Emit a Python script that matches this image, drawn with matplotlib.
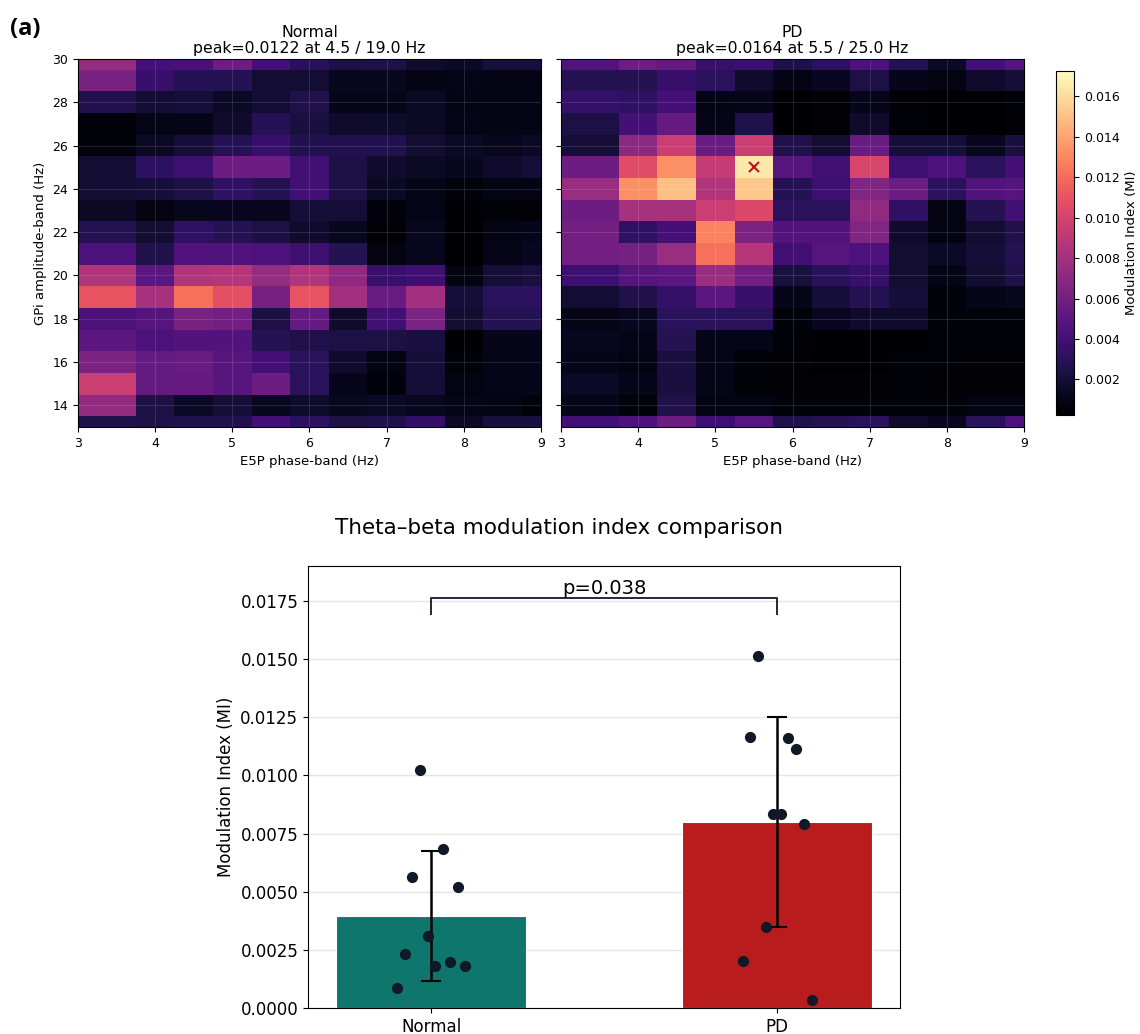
import numpy as np
import matplotlib
matplotlib.use("Agg")
import matplotlib.pyplot as plt
from matplotlib.colors import Normalize
from matplotlib.ticker import MultipleLocator

# phase-band centres (Hz) and amplitude-band centres (Hz)
phase_freqs = np.arange(3.5, 9.01, 0.5)
amp_freqs = np.arange(13, 31)

# comodulograms, rows listed from 30 Hz (top) down to 13 Hz
mi_normal_rows = [
    [0.0074, 0.0040, 0.0042, 0.0057, 0.0040, 0.0029, 0.0023, 0.0024, 0.0017, 0.0015, 0.0021, 0.0021],
    [0.0062, 0.0035, 0.0028, 0.0028, 0.0019, 0.0019, 0.0012, 0.0012, 0.0009, 0.0010, 0.0009, 0.0009],
    [0.0026, 0.0019, 0.0020, 0.0014, 0.0019, 0.0025, 0.0011, 0.0011, 0.0014, 0.0009, 0.0009, 0.0009],
    [0.0006, 0.0010, 0.0010, 0.0017, 0.0028, 0.0022, 0.0017, 0.0016, 0.0014, 0.0010, 0.0009, 0.0009],
    [0.0006, 0.0014, 0.0020, 0.0028, 0.0036, 0.0026, 0.0026, 0.0026, 0.0018, 0.0014, 0.0012, 0.0015],
    [0.0019, 0.0031, 0.0037, 0.0057, 0.0057, 0.0039, 0.0023, 0.0017, 0.0014, 0.0012, 0.0017, 0.0020],
    [0.0019, 0.0021, 0.0024, 0.0032, 0.0027, 0.0039, 0.0024, 0.0014, 0.0010, 0.0006, 0.0009, 0.0009],
    [0.0014, 0.0008, 0.0012, 0.0013, 0.0012, 0.0020, 0.0020, 0.0007, 0.0010, 0.0003, 0.0005, 0.0004],
    [0.0027, 0.0018, 0.0032, 0.0027, 0.0023, 0.0017, 0.0013, 0.0004, 0.0012, 0.0003, 0.0009, 0.0011],
    [0.0043, 0.0025, 0.0045, 0.0045, 0.0043, 0.0037, 0.0027, 0.0008, 0.0013, 0.0003, 0.0010, 0.0013],
    [0.0085, 0.0050, 0.0085, 0.0087, 0.0074, 0.0085, 0.0072, 0.0035, 0.0038, 0.0008, 0.0020, 0.0022],
    [0.0110, 0.0081, 0.0122, 0.0108, 0.0061, 0.0110, 0.0080, 0.0055, 0.0080, 0.0020, 0.0030, 0.0031],
    [0.0043, 0.0047, 0.0062, 0.0059, 0.0023, 0.0053, 0.0017, 0.0039, 0.0063, 0.0018, 0.0027, 0.0027],
    [0.0050, 0.0043, 0.0046, 0.0046, 0.0027, 0.0025, 0.0023, 0.0023, 0.0022, 0.0002, 0.0011, 0.0011],
    [0.0063, 0.0053, 0.0055, 0.0048, 0.0040, 0.0030, 0.0017, 0.0008, 0.0020, 0.0006, 0.0010, 0.0011],
    [0.0096, 0.0053, 0.0053, 0.0048, 0.0057, 0.0030, 0.0011, 0.0007, 0.0020, 0.0008, 0.0010, 0.0011],
    [0.0073, 0.0023, 0.0015, 0.0020, 0.0013, 0.0016, 0.0013, 0.0015, 0.0013, 0.0010, 0.0009, 0.0006],
    [0.0025, 0.0024, 0.0026, 0.0026, 0.0040, 0.0031, 0.0024, 0.0026, 0.0033, 0.0015, 0.0022, 0.0022],
]
mi_pd_rows = [
    [0.0046, 0.0057, 0.0053, 0.0035, 0.0037, 0.0024, 0.0031, 0.0043, 0.0027, 0.0015, 0.0039, 0.0047],
    [0.0027, 0.0027, 0.0035, 0.0030, 0.0017, 0.0009, 0.0013, 0.0023, 0.0011, 0.0008, 0.0017, 0.0020],
    [0.0034, 0.0032, 0.0040, 0.0009, 0.0011, 0.0003, 0.0004, 0.0011, 0.0004, 0.0003, 0.0003, 0.0005],
    [0.0023, 0.0040, 0.0053, 0.0010, 0.0025, 0.0003, 0.0004, 0.0017, 0.0005, 0.0002, 0.0002, 0.0004],
    [0.0020, 0.0070, 0.0096, 0.0055, 0.0096, 0.0025, 0.0018, 0.0055, 0.0020, 0.0020, 0.0013, 0.0022],
    [0.0057, 0.0106, 0.0133, 0.0094, 0.0164, 0.0047, 0.0039, 0.0102, 0.0037, 0.0043, 0.0030, 0.0040],
    [0.0076, 0.0133, 0.0150, 0.0085, 0.0153, 0.0027, 0.0037, 0.0065, 0.0057, 0.0030, 0.0046, 0.0047],
    [0.0057, 0.0081, 0.0081, 0.0096, 0.0104, 0.0030, 0.0030, 0.0072, 0.0032, 0.0008, 0.0027, 0.0039],
    [0.0059, 0.0032, 0.0040, 0.0128, 0.0063, 0.0046, 0.0046, 0.0065, 0.0017, 0.0008, 0.0018, 0.0025],
    [0.0059, 0.0061, 0.0076, 0.0122, 0.0087, 0.0039, 0.0047, 0.0043, 0.0018, 0.0015, 0.0020, 0.0027],
    [0.0037, 0.0047, 0.0050, 0.0076, 0.0059, 0.0022, 0.0030, 0.0035, 0.0018, 0.0010, 0.0018, 0.0025],
    [0.0019, 0.0025, 0.0034, 0.0050, 0.0035, 0.0011, 0.0021, 0.0027, 0.0020, 0.0006, 0.0011, 0.0013],
    [0.0010, 0.0013, 0.0030, 0.0030, 0.0030, 0.0006, 0.0013, 0.0017, 0.0017, 0.0006, 0.0006, 0.0006],
    [0.0013, 0.0010, 0.0027, 0.0010, 0.0010, 0.0005, 0.0003, 0.0003, 0.0003, 0.0005, 0.0005, 0.0005],
    [0.0011, 0.0008, 0.0022, 0.0010, 0.0005, 0.0004, 0.0003, 0.0003, 0.0005, 0.0005, 0.0004, 0.0004],
    [0.0015, 0.0011, 0.0022, 0.0010, 0.0005, 0.0004, 0.0004, 0.0004, 0.0005, 0.0004, 0.0004, 0.0004],
    [0.0011, 0.0006, 0.0025, 0.0008, 0.0008, 0.0006, 0.0006, 0.0006, 0.0006, 0.0006, 0.0008, 0.0008],
    [0.0039, 0.0043, 0.0057, 0.0037, 0.0047, 0.0025, 0.0027, 0.0030, 0.0017, 0.0013, 0.0030, 0.0043],
]

# per-subject theta-beta MI
groups = ["Normal", "PD"]
mi_normal = [0.01021, 0.00682, 0.00562, 0.00519, 0.00309, 0.00232, 0.00180, 0.00197, 0.00180, 0.00086]
mi_pd = [0.01514, 0.01166, 0.01162, 0.01115, 0.00836, 0.00836, 0.00789, 0.00347, 0.00202, 0.00034]
jitter_normal = [-0.032, 0.035, -0.055, 0.078, -0.009, -0.075, 0.012, 0.055, 0.099, -0.099]
jitter_pd = [-0.055, -0.078, 0.032, 0.055, -0.012, 0.012, 0.078, -0.032, -0.099, 0.101]
p_value = 0.038

mi_min, mi_max = 0.00024, 0.01725  # colour scale range

W, H = 1140, 1034
fig = plt.figure(figsize=(W / 100, H / 100), dpi=100)

def fr(left, top, right, bottom):
    # pixel box -> figure fraction rect
    return [left / W, 1 - bottom / H, (right - left) / W, (bottom - top) / H]

def edges(c, lo, hi):
    c = np.asarray(c, dtype=float)
    mid = (c[:-1] + c[1:]) / 2
    return np.concatenate([[lo], mid, [hi]])

xe = edges(phase_freqs, 3, 9)
ye = edges(amp_freqs, 13, 30)
norm = Normalize(vmin=mi_min, vmax=mi_max)

ax_n = fig.add_axes(fr(78, 59, 541, 427))
ax_p = fig.add_axes(fr(561, 59, 1024, 427))
cax = fig.add_axes(fr(1056, 71, 1074, 415))

mesh = None
for ax, rows, name, mark in [(ax_n, mi_normal_rows, "Normal", False),
                             (ax_p, mi_pd_rows, "PD", True)]:
    m = np.array(rows)[::-1]
    mesh = ax.pcolormesh(xe, ye, m, cmap="magma", norm=norm, shading="flat")
    iy, ix = np.unravel_index(np.argmax(m), m.shape)
    ax.set_title(f"{name}\npeak={m.max():.4f} at {phase_freqs[ix]:.1f} / {amp_freqs[iy]:.1f} Hz",
                 fontsize=11.3, pad=4, linespacing=1.1)
    if mark:
        ax.plot(phase_freqs[ix], amp_freqs[iy], "x", color="#c0121a", ms=7, mew=1.5)
    ax.set_xlim(3, 9)
    ax.set_ylim(13, 30)
    ax.set_xticks(range(3, 10))
    ax.set_yticks(range(14, 31, 2))
    ax.tick_params(labelsize=9)
    ax.grid(color="white", alpha=0.12, lw=0.8)
    ax.set_xlabel("E5P phase-band (Hz)", fontsize=9.5)

ax_n.set_ylabel("GPi amplitude-band (Hz)", fontsize=9.5)
ax_p.tick_params(labelleft=False)

cb = fig.colorbar(mesh, cax=cax)
cb.set_label("Modulation Index (MI)", fontsize=9.5)
cb.ax.tick_params(labelsize=9)

fig.text(10 / W, 1 - 29 / H, "(a)", fontsize=17, fontweight="bold",
         family=["Open Sans", "DejaVu Sans"], va="center", ha="left")

# bar chart
ax = fig.add_axes(fr(308, 566, 900, 1008))
vals = [np.array(mi_normal), np.array(mi_pd)]
jit = [np.array(jitter_normal), np.array(jitter_pd)]
means = [v.mean() for v in vals]
sds = [v.std() for v in vals]
xpos = np.arange(len(groups))
ax.bar(xpos, means, width=0.55, color=["#0f766e", "#b91c1c"], edgecolor="white",
       lw=0.8, zorder=2)
ax.errorbar(xpos, means, yerr=sds, fmt="none", ecolor="black", elinewidth=1.8,
            capsize=7, capthick=1.5, zorder=3)
for i in range(len(groups)):
    ax.scatter(xpos[i] + jit[i], vals[i], s=65, color="#111827", zorder=4, lw=0)

y_br = 0.01763
ax.plot([0, 0, 1, 1], [y_br - 0.0007, y_br, y_br, y_br - 0.0007], color="#1f2937", lw=1.4)
ax.text(0.5, y_br + 0.00016, f"p={p_value:.3f}", ha="center", va="baseline", fontsize=14)

ax.set_xticks(xpos)
ax.set_xticklabels(groups)
ax.set_xlim(-0.357, 1.357)
ax.set_ylim(0, 0.019)
ax.yaxis.set_major_locator(MultipleLocator(0.0025))
ax.yaxis.set_major_formatter(plt.FormatStrFormatter("%.4f"))
ax.tick_params(labelsize=12)
ax.set_ylabel("Modulation Index (MI)", fontsize=12)
ax.grid(axis="y", color="#e5e5e5", lw=1)
ax.set_axisbelow(True)

fig.text(559 / W, 1 - 528 / H, "Theta\u2013beta modulation index comparison",
         fontsize=15.5, ha="center", va="center")

fig.savefig("out.png", dpi=100)
